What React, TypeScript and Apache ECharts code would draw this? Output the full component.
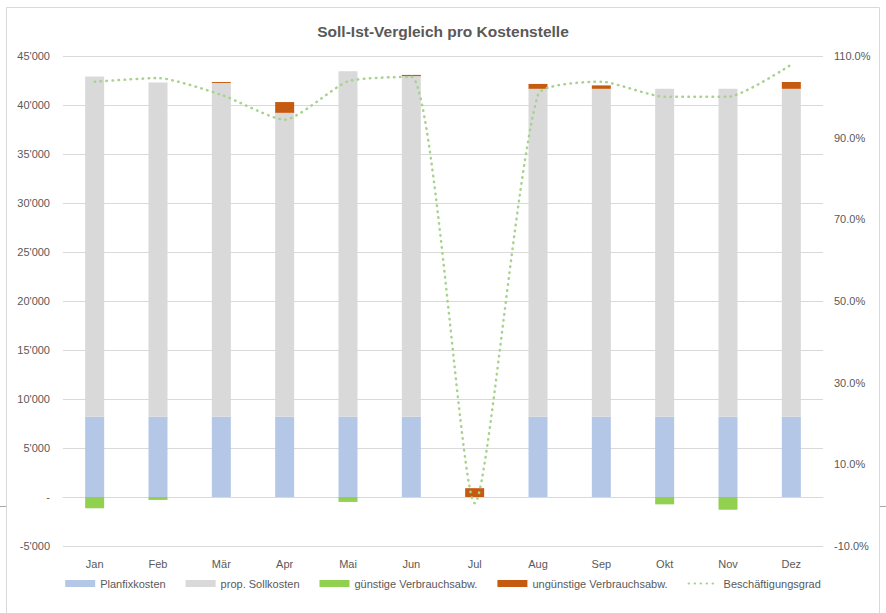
import React, { useEffect, useRef } from "react";
import * as echarts from "echarts";

const months = ["Jan", "Feb", "Mär", "Apr", "Mai", "Jun", "Jul", "Aug", "Sep", "Okt", "Nov", "Dez"];
const planfixkosten = [8200, 8200, 8200, 8200, 8200, 8200, 0, 8200, 8200, 8200, 8200, 8200];
const propSollkosten = [34700, 34100, 34050, 31000, 35250, 34750, 0, 33450, 33450, 33450, 33450, 33450];
const guenstigeAbw = [-1150, -300, 0, 0, -500, 0, 0, 0, 0, -750, -1300, 0];
const unguenstigeAbw = [0, 0, 100, 1100, 0, 120, 900, 500, 350, 0, 0, 700];
const beschaeftigungsgrad = [1.037, 1.046, 1.005, 0.944, 1.038, 1.049, 0.005, 1.005, 1.037, 1.0, 1.0, 1.079];

const FONT = "'Liberation Sans', Arial, sans-serif";
const TXT = "#595959";

function fmtThousands(v: number): string {
  if (v === 0) return "-";
  const s = Math.abs(v).toFixed(0).replace(/\B(?=(\d{3})+(?!\d))/g, "'");
  return (v < 0 ? "-" : "") + s;
}

export default function App() {
  const ref = useRef<HTMLDivElement>(null);
  useEffect(() => {
    if (!ref.current) return;
    const chart = echarts.init(ref.current, undefined, { renderer: "svg" });
    chart.setOption({
      animation: false,
      backgroundColor: "#ffffff",
      textStyle: { fontFamily: FONT },
      title: {
        text: "Soll-Ist-Vergleich pro Kostenstelle",
        left: "center",
        top: 18,
        textStyle: { fontFamily: FONT, fontSize: 15.5, fontWeight: "bold", color: TXT },
      },
      grid: { left: 63, right: 63, top: 56, bottom: 67, containLabel: false },
      legend: {
        bottom: 19,
        left: "center",
        itemWidth: 30,
        itemHeight: 7,
        itemGap: 20,
        textStyle: { fontFamily: FONT, fontSize: 11, color: TXT },
        data: [
          { name: "Planfixkosten", icon: "rect" },
          { name: "prop. Sollkosten", icon: "rect" },
          { name: "günstige Verbrauchsabw.", icon: "rect" },
          { name: "ungünstige Verbrauchsabw.", icon: "rect" },
          { name: "Beschäftigungsgrad", itemStyle: { opacity: 0 } },
        ],
      },
      xAxis: {
        type: "category",
        data: months,
        axisLine: { show: true, onZero: true, lineStyle: { color: "#D9D9D9" } },
        axisTick: { show: false },
        axisLabel: { color: TXT, fontSize: 11, fontFamily: FONT, margin: 12 },
      },
      yAxis: [
        {
          type: "value",
          min: -5000,
          max: 45000,
          interval: 5000,
          axisLine: { show: false },
          axisTick: { show: false },
          splitLine: { show: true, lineStyle: { color: "#D9D9D9", width: 1 } },
          axisLabel: { color: TXT, fontSize: 11, fontFamily: FONT, margin: 13, formatter: (v: number) => fmtThousands(v) },
        },
        {
          type: "value",
          min: -0.1,
          max: 1.1,
          interval: 0.2,
          axisLine: { show: false },
          axisTick: { show: false },
          splitLine: { show: false },
          axisLabel: {
            color: TXT,
            fontSize: 11,
            fontFamily: FONT,
            margin: 11,
            formatter: (v: number) => (v * 100).toFixed(1) + "%",
          },
        },
      ],
      series: [
        {
          name: "Planfixkosten",
          type: "bar",
          stack: "k",
          barWidth: "30%",
          itemStyle: { color: "#B4C7E7" },
          data: planfixkosten,
        },
        {
          name: "prop. Sollkosten",
          type: "bar",
          stack: "k",
          barWidth: "30%",
          itemStyle: { color: "#D9D9D9" },
          data: propSollkosten,
        },
        {
          name: "günstige Verbrauchsabw.",
          type: "bar",
          stack: "k",
          barWidth: "30%",
          itemStyle: { color: "#92D050" },
          data: guenstigeAbw,
        },
        {
          name: "ungünstige Verbrauchsabw.",
          type: "bar",
          stack: "k",
          barWidth: "30%",
          itemStyle: { color: "#C55A11" },
          data: unguenstigeAbw,
        },
        {
          name: "Beschäftigungsgrad",
          type: "line",
          yAxisIndex: 1,
          smooth: 0.2,
          symbol: "none",
          itemStyle: { color: "#A9D18E" },
          lineStyle: { color: "#A9D18E", width: 2.5, type: [0.5, 5.5], cap: "round" },
          data: beschaeftigungsgrad,
          z: 5,
        },
      ],
      graphic: [
        {
          type: "rect",
          shape: { x: 6.5, y: 7.5, width: 873, height: 640 },
          style: { fill: "none", stroke: "#D9D9D9", lineWidth: 1 },
          silent: true,
        },
        {
          type: "line",
          shape: { x1: 0, y1: 506.5, x2: 6, y2: 506.5 },
          style: { stroke: "#A6A6A6", lineWidth: 1 },
          silent: true,
        },
        {
          type: "line",
          shape: { x1: 880, y1: 506.5, x2: 886, y2: 506.5 },
          style: { stroke: "#A6A6A6", lineWidth: 1 },
          silent: true,
        },
      ],
    });
    return () => chart.dispose();
  }, []);
  return (
    <div
      ref={ref}
      style={{ position: "fixed", left: 0, top: 0, width: 886, height: 613 }}
    />
  );
}
